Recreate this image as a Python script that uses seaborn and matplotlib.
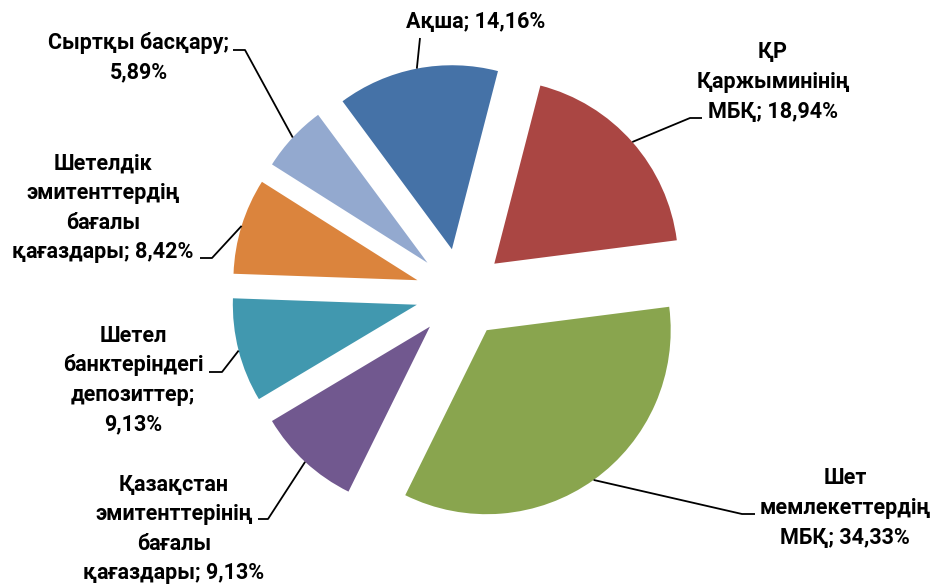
import matplotlib
matplotlib.use("Agg")
import matplotlib.pyplot as plt
import seaborn as sns
import numpy as np

# ---- data ----
categories = [
    "ҚР\nҚаржыминінің\nМБҚ",
    "Шет\nмемлекеттердің\nМБҚ",
    "Қазақстан\nэмитенттерінің\nбағалы\nқағаздары",
    "Шетел\nбанктеріндегі\nдепозиттер",
    "Шетелдік\nэмитенттердің\nбағалы\nқағаздары",
    "Сыртқы басқару",
    "Ақша",
]
values = [18.94, 34.33, 9.13, 9.13, 8.42, 5.89, 14.16]
value_sep = [" ", " ", " ", "\n", " ", "\n", " "]

# ---- style ----
sns.set_theme(style="white")
plt.rcParams["font.family"] = ["Roboto", "DejaVu Sans"]

colors = sns.color_palette(["#AA4643", "#89A54E", "#71588F", "#4198AF",
                            "#DB843D", "#93A9CF", "#4572A7"])

W, H = 934, 585
fig = plt.figure(figsize=(W / 100, H / 100), dpi=100)
ax = fig.add_axes([0, 0, 1, 1])

R = 184
cx, cy = 460.5, H - 293.5
explode_frac = 0.245
start = 75.5

wedges, _ = ax.pie(values, colors=colors, startangle=start, counterclock=False,
                   radius=R, center=(cx, cy),
                   explode=[explode_frac * R] * len(values),
                   wedgeprops=dict(linewidth=0))
ax.set_xlim(0, W)
ax.set_ylim(0, H)
ax.set_aspect("auto")
ax.axis("off")

# label layout (pixel positions, top-left origin)
label_pos = [(773, 82), (845, 508), (174, 529), (133, 380), (103, 208), (139, 58), (476, 22)]
elbow = [(690, 118), (742, 514), (268, 519), (222, 372), (212, 258), (245, 50), (420, 38)]
end = [(702, 118), (755, 514), (258, 519), (209, 372), (200, 258), (233, 50), (420, 38)]

for i, w in enumerate(wedges):
    mid = np.deg2rad((w.theta1 + w.theta2) / 2)
    d = np.array([np.cos(mid), np.sin(mid)])
    tip = np.array([cx, cy]) + explode_frac * R * d
    anchor = tip + R * d
    ex, ey = elbow[i]
    nx, ny = end[i]
    ax.plot([anchor[0], ex, nx], [anchor[1], H - ey, H - ny], color="black", lw=1.3,
            solid_capstyle="butt")
    txt = f"{categories[i]};{value_sep[i]}{values[i]:.2f}%".replace(".", ",")
    lx, ly = label_pos[i]
    ax.text(lx, H - ly, txt, ha="center", va="center", multialignment="center",
            fontsize=15.5, fontweight="bold", color="black", linespacing=1.45)

fig.savefig("out.png", dpi=100, facecolor="white")
